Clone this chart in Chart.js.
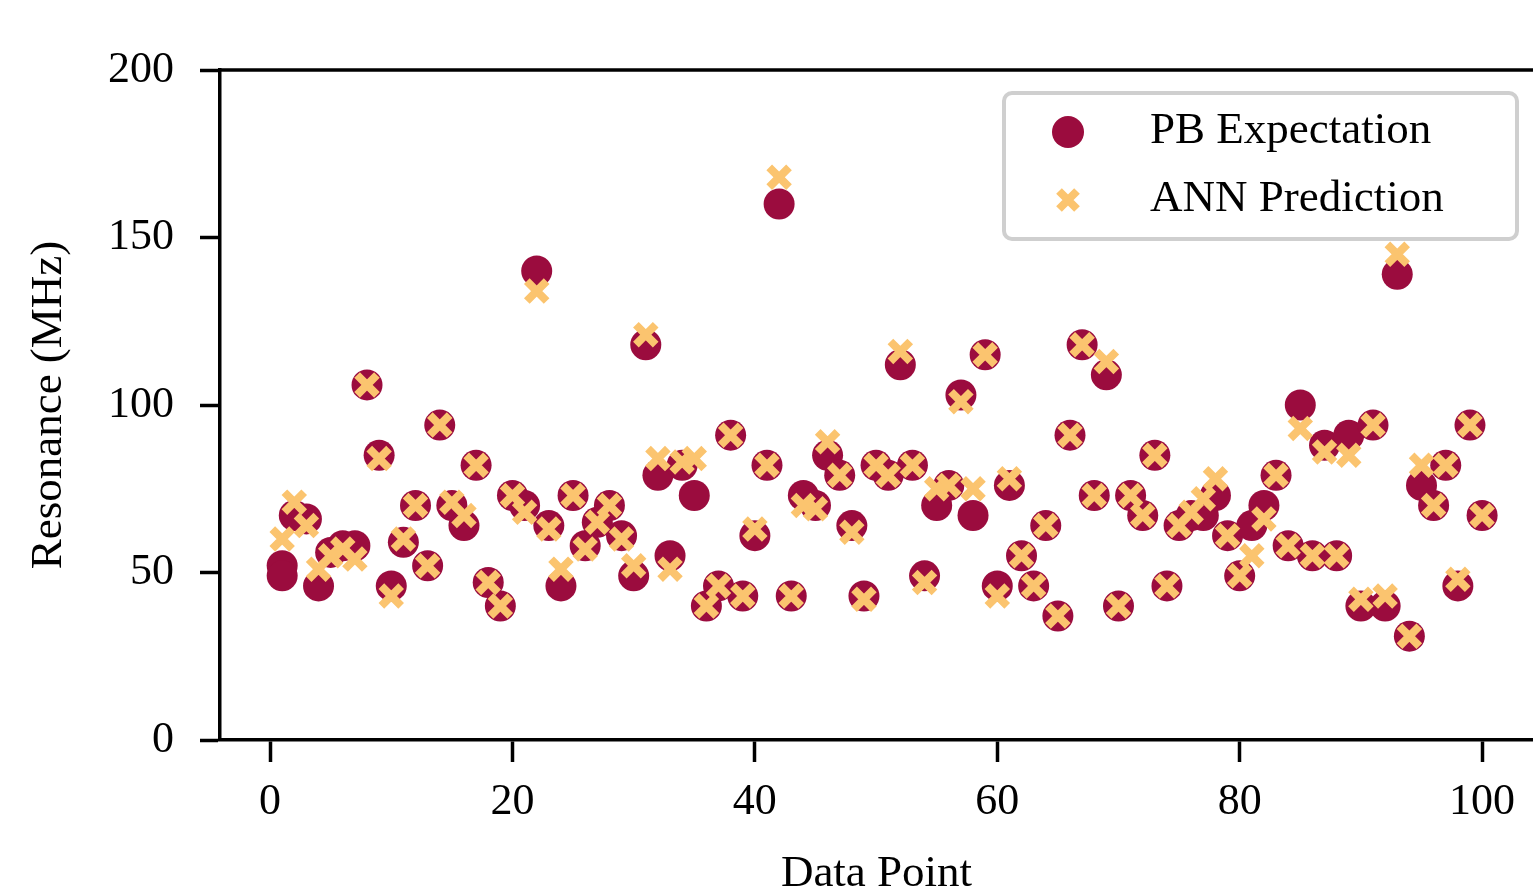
<!DOCTYPE html>
<html>
<head>
<meta charset="utf-8">
<title>Resonance scatter</title>
<script src="https://cdn.jsdelivr.net/npm/chart.js@4.4.1/dist/chart.umd.min.js"></script>
<style>
  html, body { margin:0; padding:0; background:#fff; overflow:hidden; }
  #wrap { position:relative; width:1533px; height:891px; }
</style>
</head>
<body>
<div id="wrap"><canvas id="chart" width="1533" height="891"></canvas></div>
<script>
/* ── Data ───────────────────────────────────────────────────────── */
const pbX  = [1, 1, 2, 3, 4, 5, 6, 7, 8, 9, 10, 11, 12, 13, 14, 15, 16, 17, 18, 19, 20,
  21, 22, 23, 24, 25, 26, 27, 28, 29, 30, 31, 32, 33, 34, 35, 36, 37, 38, 39, 40,
  41, 42, 43, 44, 45, 46, 47, 48, 49, 50, 51, 52, 53, 54, 55, 56, 57, 58, 59, 60,
  61, 62, 63, 64, 65, 66, 67, 68, 69, 70, 71, 72, 73, 74, 75, 76, 77, 78, 79, 80,
  81, 82, 83, 84, 85, 86, 87, 88, 89, 90, 91, 92, 93, 94, 95, 96, 97, 98, 99, 100];
const pbExpectation = [52, 49, 67, 66, 46, 56, 58, 58, 106, 85, 46, 59, 70, 52, 94, 70, 64, 82, 47, 40, 73,
  70, 140, 64, 46, 73, 58, 65, 70, 61, 49, 118, 79, 55, 82, 73, 40, 46, 91, 43, 61,
  82, 160, 43, 73, 70, 85, 79, 64, 43, 82, 79, 112, 82, 49, 70, 76, 103, 67, 115, 46,
  76, 55, 46, 64, 37, 91, 118, 73, 109, 40, 73, 67, 85, 46, 64, 67, 67, 73, 61, 49,
  64, 70, 79, 58, 100, 55, 88, 55, 91, 40, 94, 40, 139, 31, 76, 70, 82, 46, 94, 67];

const annX = [1, 2, 3, 4, 5, 6, 7, 8, 9, 10, 11, 12, 13, 14, 15, 16, 17, 18, 19, 20,
  21, 22, 23, 24, 25, 26, 27, 28, 29, 30, 31, 32, 33, 34, 35, 36, 37, 38, 39, 40,
  41, 42, 43, 44, 45, 46, 47, 48, 49, 50, 51, 52, 53, 54, 55, 56, 57, 58, 59, 60,
  61, 62, 63, 64, 65, 66, 67, 68, 69, 70, 71, 72, 73, 74, 75, 76, 77, 78, 79, 80,
  81, 82, 83, 84, 85, 86, 87, 88, 89, 90, 91, 92, 93, 94, 95, 96, 97, 98, 99, 100];
const annPrediction = [60, 71, 64, 51, 55, 57, 54, 106, 84, 43, 60, 70, 52, 94, 71, 67, 82, 47, 40, 73,
  68, 134, 63, 51, 73, 57, 65, 70, 60, 52, 121, 84, 51, 83, 84, 40, 46, 91, 43, 63,
  82, 168, 43, 70, 69, 89, 79, 62, 42, 82, 79, 116, 82, 47, 75, 76, 101, 75, 115, 43,
  78, 55, 46, 64, 37, 91, 118, 73, 113, 40, 73, 67, 85, 46, 64, 68, 72, 78, 61, 49,
  55, 66, 79, 58, 93, 55, 86, 55, 85, 42, 94, 43, 145, 31, 82, 70, 82, 48, 94, 67];

const xTicks = [0, 20, 40, 60, 80, 100];
const yTicks = [0, 50, 100, 150, 200];

/* ── Style ──────────────────────────────────────────────────────── */
const MAROON = '#9B0C3E';
const PEACH  = '#FBC46F';
const FONT   = '"Liberation Serif", "Times New Roman", serif';

Chart.defaults.font.family = FONT;
Chart.defaults.font.size = 44;
Chart.defaults.color = '#000';

function toPts(xs, ys) { return xs.map((x, i) => ({ x, y: ys[i] })); }

/* top spine + in-plot legend */
const framePlugin = {
  id: 'frame',
  afterDraw(chart) {
    const { ctx, chartArea: a } = chart;
    ctx.save();
    ctx.strokeStyle = '#000'; ctx.lineWidth = 3.5;
    ctx.beginPath(); ctx.moveTo(a.left - 1.75, a.top); ctx.lineTo(chart.width, a.top); ctx.stroke();

    // legend box
    ctx.fillStyle = 'rgba(255,255,255,0.85)';
    ctx.strokeStyle = '#cfcfcf'; ctx.lineWidth = 4;
    ctx.beginPath(); ctx.roundRect(1004, 93, 513, 146, 8); ctx.fill(); ctx.stroke();

    ctx.fillStyle = MAROON;
    ctx.beginPath(); ctx.arc(1068, 132, 16, 0, Math.PI * 2); ctx.fill();

    ctx.strokeStyle = PEACH; ctx.lineWidth = 8; ctx.lineCap = 'butt';
    const cx = 1068, cy = 200, d = 9;
    ctx.beginPath();
    ctx.moveTo(cx - d, cy - d); ctx.lineTo(cx + d, cy + d);
    ctx.moveTo(cx + d, cy - d); ctx.lineTo(cx - d, cy + d);
    ctx.stroke();

    ctx.fillStyle = '#000';
    ctx.font = '45px ' + FONT;
    ctx.textBaseline = 'middle';
    ctx.fillText('PB Expectation', 1150, 131);
    ctx.fillText('ANN Prediction', 1150, 199);
    ctx.restore();
  }
};

new Chart(document.getElementById('chart'), {
  type: 'scatter',
  data: {
    datasets: [
      { label: 'PB Expectation', data: toPts(pbX, pbExpectation), order: 1,
        pointStyle: 'circle', pointRadius: 15.5, pointBackgroundColor: MAROON,
        pointBorderWidth: 0, pointBorderColor: MAROON },
      { label: 'ANN Prediction', data: toPts(annX, annPrediction), order: 0,
        pointStyle: 'crossRot', pointRadius: 14, pointBorderWidth: 8,
        pointBorderColor: PEACH, pointBackgroundColor: PEACH }
    ]
  },
  options: {
    responsive: false, animation: false,
    layout: { autoPadding: false, padding: { top: 70, right: 0, left: 0, bottom: 0 } },
    plugins: { legend: { display: false }, tooltip: { enabled: false } },
    scales: {
      x: {
        type: 'linear', min: -4.13, max: 104.2,
        afterFit: s => { s.height = 151; s.paddingLeft = 0; s.paddingRight = 0; },
        afterBuildTicks: s => { s.ticks = xTicks.map(v => ({ value: v })); },
        ticks: { padding: 14, color: '#000', font: { size: 44 } },
        grid: { drawOnChartArea: false, drawTicks: true, tickLength: 22, tickWidth: 3.5, tickColor: '#000' },
        border: { display: true, width: 3.5, color: '#000' },
        title: { display: true, text: 'Data Point', color: '#000',
                 font: { size: 45, lineHeight: 1.0 }, padding: { top: 0, bottom: -6 } }
      },
      y: {
        type: 'linear', min: 0, max: 200,
        afterFit: s => { s.width = 220; s.paddingTop = 0; s.paddingBottom = 0; },
        afterBuildTicks: s => { s.ticks = yTicks.map(v => ({ value: v })); },
        ticks: { padding: 26, color: '#000', font: { size: 44 } },
        grid: { drawOnChartArea: false, drawTicks: true, tickLength: 20, tickWidth: 3.5, tickColor: '#000' },
        border: { display: true, width: 3.5, color: '#000' },
        title: { display: true, text: 'Resonance (MHz)', color: '#000',
                 font: { size: 45 }, padding: { top: 22, bottom: 0 } }
      }
    }
  },
  plugins: [framePlugin]
});
</script>
</body>
</html>
